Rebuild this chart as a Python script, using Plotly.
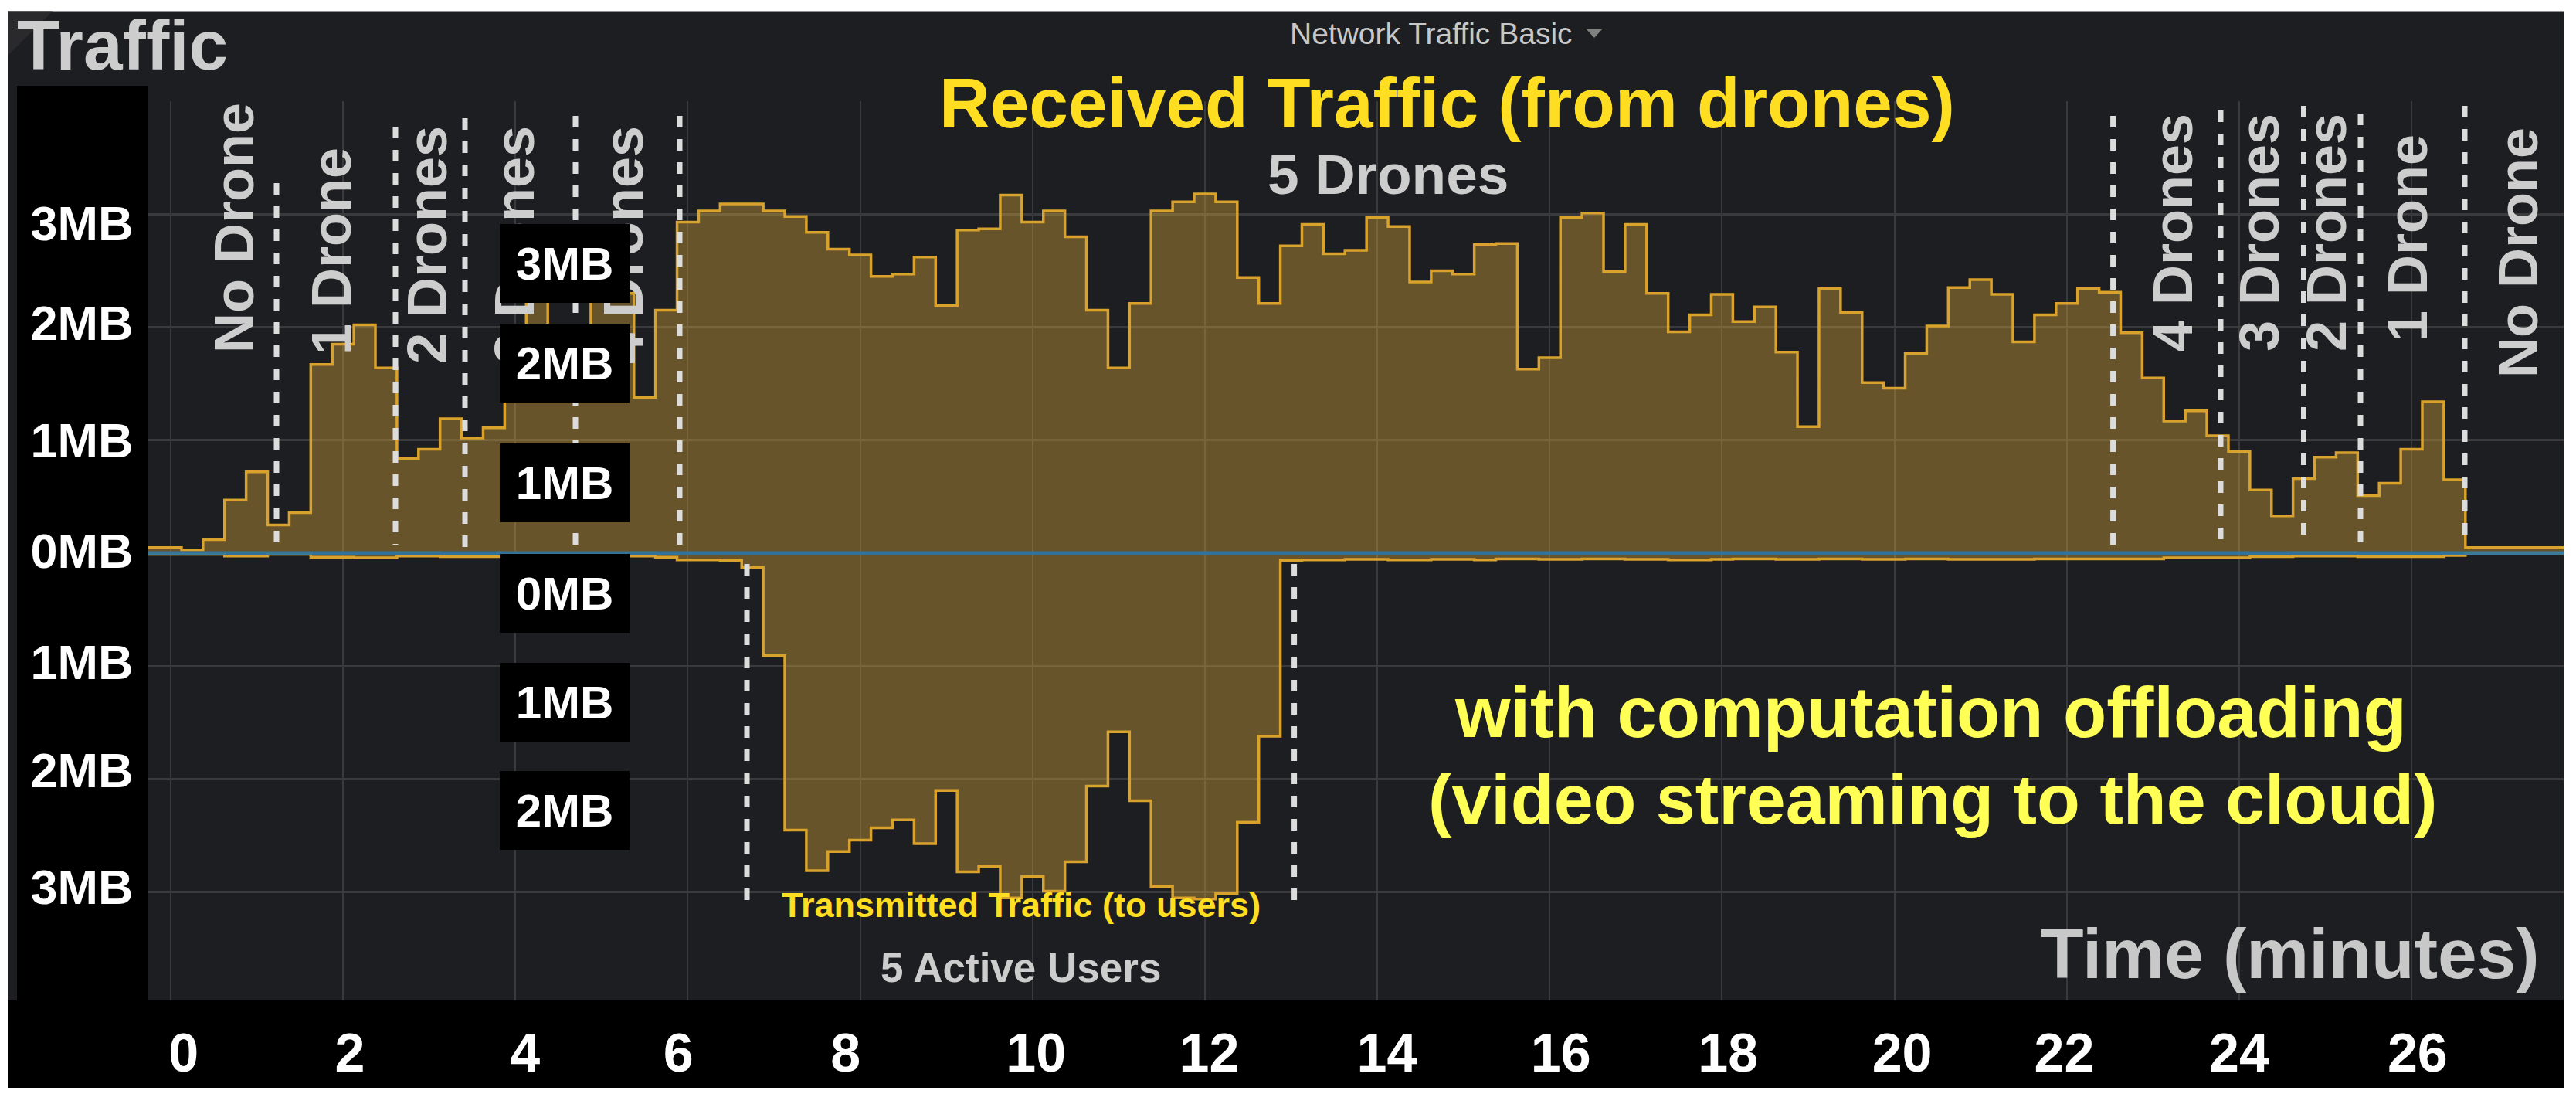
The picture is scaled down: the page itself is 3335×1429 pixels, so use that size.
import numpy as np
import plotly.graph_objects as go

# values per 15 s sample, MB
received = [0.05, 0.05, 0.03, 0.12, 0.47, 0.72, 0.25, 0.36, 1.67, 1.85, 2.02, 1.64, 0.84, 0.92, 1.19, 1.02,
            1.11, 1.6, 2.4, 1.8, 1.7, 2.4, 2.3, 1.38, 2.15, 2.93, 3.03, 3.09, 3.09, 3.03, 2.98, 2.84,
            2.69, 2.64, 2.45, 2.47, 2.62, 2.19, 2.86, 2.87, 3.17, 2.93, 3.03, 2.80, 2.15, 1.64, 2.21, 3.03,
            3.11, 3.18, 3.11, 2.44, 2.21, 2.72, 2.91, 2.65, 2.68, 2.97, 2.89, 2.40, 2.50, 2.47, 2.73, 2.74,
            1.63, 1.73, 2.97, 3.01, 2.49, 2.91, 2.30, 1.96, 2.11, 2.29, 2.05, 2.18, 1.78, 1.12, 2.34, 2.13,
            1.51, 1.46, 1.77, 2.01, 2.35, 2.42, 2.29, 1.87, 2.11, 2.21, 2.34, 2.31, 1.95, 1.55, 1.17, 1.26,
            1.04, 0.90, 0.56, 0.33, 0.66, 0.85, 0.89, 0.51, 0.62, 0.92, 1.34, 0.65, 0.05, 0.05, 0.05, 0.05,
            0.05, 0.05]
transmitted = [-0.01, -0.01, -0.01, -0.01, -0.025, -0.025, -0.01, -0.01, -0.035, -0.035, -0.04, -0.04, -0.025, -0.025, -0.03, -0.03,
               -0.03, -0.03, -0.03, -0.03, -0.03, -0.03, -0.025, -0.025, -0.035, -0.06, -0.06, -0.065, -0.124, -0.907, -2.45, -2.81,
               -2.64, -2.54, -2.43, -2.36, -2.57, -2.10, -2.82, -2.77, -3.05, -2.86, -2.99, -2.73, -2.06, -1.58, -2.19, -2.95,
               -3.05, -3.06, -3.01, -2.38, -1.62, -0.065, -0.06, -0.06, -0.055, -0.055, -0.06, -0.06, -0.055, -0.055, -0.06, -0.05,
               -0.05, -0.055, -0.055, -0.05, -0.05, -0.055, -0.055, -0.06, -0.06, -0.055, -0.05, -0.05, -0.055, -0.055, -0.05, -0.05,
               -0.055, -0.055, -0.05, -0.05, -0.055, -0.055, -0.055, -0.055, -0.05, -0.05, -0.05, -0.05, -0.05, -0.05, -0.04, -0.04,
               -0.04, -0.04, -0.03, -0.03, -0.025, -0.025, -0.025, -0.03, -0.03, -0.03, -0.03, -0.02, -0.005, -0.005, -0.005, -0.005,
               -0.005, -0.005]
baseline = [0.0] * len(received)
minutes = -0.375 + 0.25 * np.arange(len(received))

x_tick_labels = ['0', '2', '4', '6', '8', '10', '12', '14', '16', '18', '20', '22', '24', '26']
x_tick_at = [0.15, 2.08, 4.11, 5.89, 7.83, 10.04, 12.05, 14.11, 16.13, 18.07, 20.09, 21.97, 24.0, 26.07]
x_grid = [0, 2, 4, 6, 8, 10, 12, 14, 16, 18, 20, 22, 24, 26]
y_tick_labels = ['3MB', '2MB', '1MB', '0MB', '1MB', '2MB', '3MB']
y_tick_at = [2.92, 2.04, 1.0, 0.02, -0.96, -1.92, -2.95]
y_grid = [4, 3, 2, 1, -1, -2, -3]
box_labels = ['3MB', '2MB', '1MB', '0MB', '1MB', '2MB']

W, H = 3319, 1413
FONT = 'Liberation Sans'
GRAY = '#cdcdcd'
YELLOW = '#ffde22'
LINE = '#d8a22c'
FILL = 'rgba(234,177,57,0.366)'
PANEL = '#1d1e21'
GRID = '#3a3a3c'


# page body has an 8px margin, positions below are page pixels
def X(px):
    return (px - 8) / W


def Y(py):
    return 1 - (py - 8) / H


def rect(x0, y0, x1, y1, color, layer='below'):
    return dict(type='rect', xref='paper', yref='paper', x0=X(x0), x1=X(x1), y0=Y(y0), y1=Y(y1),
                fillcolor=color, line_width=0, layer=layer)


def dash(x, y0, y1):
    return dict(type='line', xref='paper', yref='paper', x0=X(x), x1=X(x), y0=Y(y0), y1=Y(y1), layer='above',
                line=dict(color='#dcdcdc', width=7, dash='15px,15px'))


def text(s, x, y, size, color=GRAY, bold=True, angle=0):
    return dict(text=s, xref='paper', yref='paper', x=X(x), y=Y(y), showarrow=False, textangle=angle,
                xanchor='center', yanchor='middle', font=dict(family=FONT, size=size, color=color,
                                                              weight=700 if bold else 400))


fig = go.Figure()
for values in (received, transmitted):
    fig.add_trace(go.Scatter(x=minutes, y=values, mode='lines', line=dict(color=LINE, width=3.5, shape='hv'),
                             fill='tozeroy', fillcolor=FILL, hoverinfo='skip', showlegend=False))
fig.add_trace(go.Scatter(x=minutes, y=baseline, mode='lines', line=dict(color='rgba(42,118,165,0.9)', width=5),
                         hoverinfo='skip', showlegend=False))

shapes = [
    rect(10, 14.5, 3319, 1408, PANEL),
    rect(22, 111, 192, 1296, '#000000'),
    rect(10, 1295, 3319, 1408, '#000000'),
    dict(type='path', xref='paper', yref='paper', layer='below', fillcolor='#2a2a2d', line_width=0,
         path=f'M {X(10)} {Y(14.5)} L {X(68)} {Y(14.5)} L {X(10)} {Y(72)} Z'),
    dict(type='path', xref='paper', yref='paper', layer='below', fillcolor='#808080', line_width=0,
         path=f'M {X(2053)} {Y(37)} L {X(2075)} {Y(37)} L {X(2064)} {Y(49)} Z'),
    dash(358, 237, 715), dash(512, 164, 705), dash(602, 153, 710), dash(745, 150, 715), dash(880, 150, 715),
    dash(967, 730, 1177), dash(1675.6, 730, 1177),
    dash(2735.6, 150, 715), dash(2875, 143, 707), dash(2982.5, 137, 702), dash(3056, 147, 712), dash(3191, 137, 702),
]

annotations = [
    text('Traffic', 158, 59, 91),
    text('Network Traffic Basic', 1853, 43, 39, color='#c8c8c8', bold=False),
    text('Received Traffic (from drones)', 1873, 134, 91, color=YELLOW),
    text('5 Drones', 1797, 225, 73),
    text('Transmitted Traffic (to users)', 1322, 1171, 45, color=YELLOW),
    text('5 Active Users', 1321, 1252, 53),
    text('with computation offloading', 2499, 922, 92, color='#ffff55'),
    text('(video streaming to the cloud)', 2502, 1034, 91.5, color='#ffff55'),
    text('Time (minutes)', 2965, 1234, 91, color='#c8c8c8'),
    text('No Drone', 303, 295, 72, angle=-90),
    text('1 Drone', 429, 325, 72, angle=-90),
    text('2 Drones', 553, 317, 72, angle=-90),
    text('3 Drones', 666, 317, 72, angle=-90),
    text('4 Drones', 807, 317, 72, angle=-90),
    text('4 Drones', 2813, 301, 72, angle=-90),
    text('3 Drones', 2925, 301, 72, angle=-90),
    text('2 Drones', 3012, 301, 72, angle=-90),
    text('1 Drone', 3117, 308, 72, angle=-90),
    text('No Drone', 3260, 327, 72, angle=-90),
]
# black label boxes go last so they cover the drone labels
for label, cy in zip(box_labels, [341, 470, 625, 767.5, 909, 1049]):
    box = text(label, 731, cy, 60, color='#ffffff')
    box.update(width=168, height=102, bgcolor='#000000', borderpad=0, borderwidth=0)
    annotations.append(box)

fig.update_layout(
    width=W, height=H, margin=dict(l=0, r=0, t=0, b=0, pad=0), showlegend=False,
    paper_bgcolor='#ffffff', plot_bgcolor=PANEL, shapes=shapes, annotations=annotations,
    xaxis=dict(domain=[X(192), X(3319)], range=[-0.26, 27.765], showline=False, zeroline=False, showgrid=False,
               tickmode='array', tickvals=x_tick_at, ticktext=x_tick_labels,
               ticks='outside', ticklen=7, tickcolor='rgba(0,0,0,0)',
               tickfont=dict(family=FONT, size=70, color='#ffffff', weight=700),
               minor=dict(tickmode='array', tickvals=x_grid, showgrid=True, gridcolor=GRID, gridwidth=2, ticks='')),
    yaxis=dict(domain=[Y(1295), Y(131)], range=[-3.958, 4.0], showline=False, zeroline=False, showgrid=False,
               tickmode='array', tickvals=y_tick_at, ticktext=y_tick_labels,
               ticks='outside', ticklen=6, tickcolor='rgba(0,0,0,0)',
               tickfont=dict(family=FONT, size=63, color='#ffffff', weight=700),
               minor=dict(tickmode='array', tickvals=y_grid, showgrid=True, gridcolor=GRID, gridwidth=3, ticks='')),
)

fig.write_html("out.html")
